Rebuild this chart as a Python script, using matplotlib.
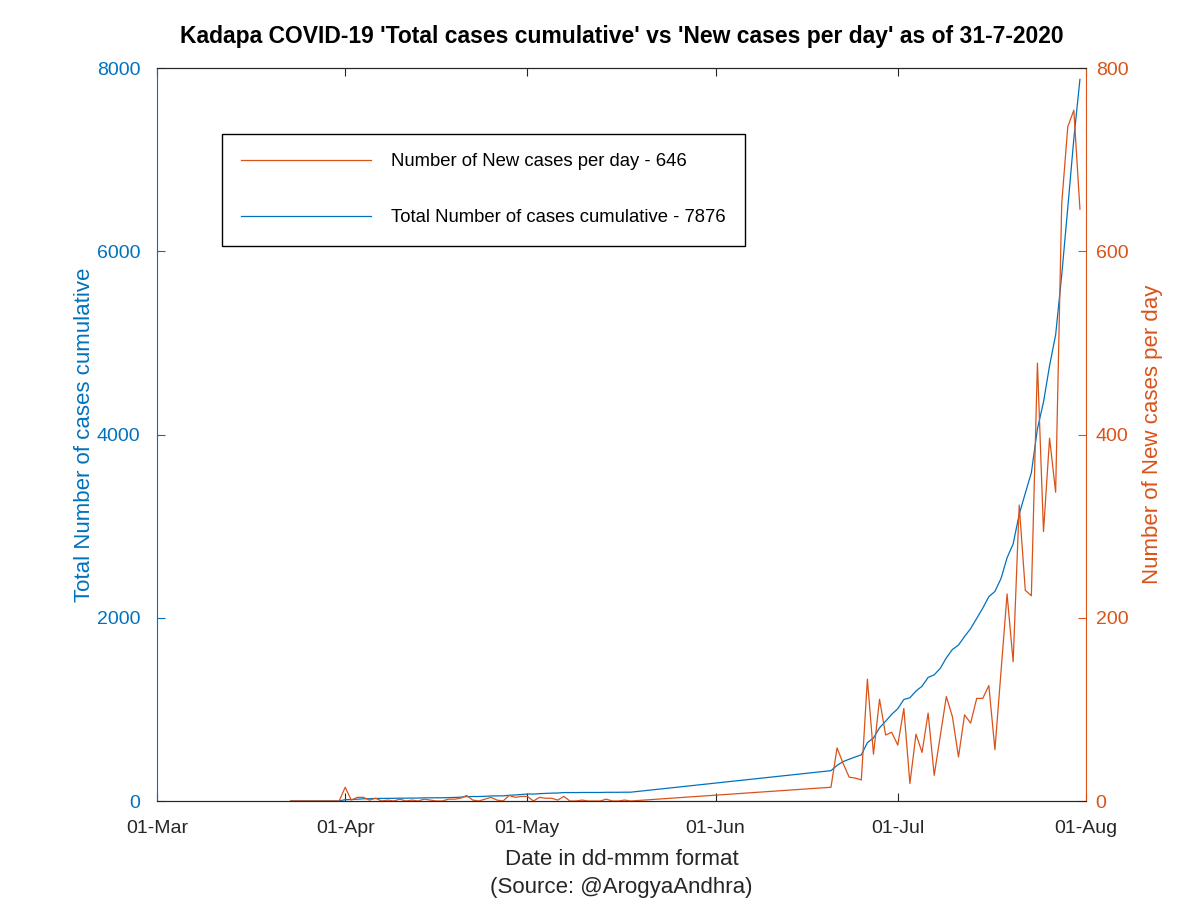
import matplotlib
matplotlib.use("Agg")
import matplotlib.pyplot as plt
import matplotlib.dates as mdates
import numpy as np
import pandas as pd

plt.rcParams['font.family'] = ['Liberation Sans', 'DejaVu Sans']

# данные: два участка с ежедневными значениями (между ними пропуск)
early_start, early_end = "2020-03-23", "2020-05-18"
late_start, late_end = "2020-06-20", "2020-07-31"

new_early = [0, 0, 0, 0, 0, 0, 0, 0, 0,
             15, 1, 4, 4, 1, 3, 0, 1, 0, 2,
             0, 1, 0, 2, 1, 0, 0, 2, 2, 3,
             6, 1, 0, 2, 4, 1, 0, 6, 4, 5,
             5, 0, 4, 3, 3, 1, 5, 0, 0, 1,
             0, 0, 0, 2, 0, 0, 1, 0]
cum_early = [0, 0, 0, 0, 0, 0, 0, 0, 0,
             15, 16, 20, 24, 25, 28, 28, 29, 29, 31,
             31, 32, 32, 34, 35, 35, 35, 37, 39, 42,
             48, 49, 49, 51, 55, 56, 56, 62, 66, 71,
             76, 76, 80, 83, 86, 87, 92, 92, 92, 93,
             93, 93, 93, 95, 95, 95, 96, 96]

new_late = [15, 58, 41, 26, 25, 23, 133, 51, 111, 72, 75,
            61, 101, 19, 73, 53, 96, 28, 71, 114, 92,
            48, 94, 85, 112, 112, 126, 56, 141, 226, 152,
            323, 230, 224, 478, 294, 396, 337, 652, 736, 754, 646]
cum_late = [331, 389, 430, 456, 481, 504, 637, 688, 799, 871, 946,
            1007, 1108, 1127, 1200, 1253, 1349, 1377, 1448, 1562, 1654,
            1702, 1796, 1881, 1993, 2105, 2231, 2287, 2428, 2654, 2806,
            3129, 3359, 3583, 4061, 4355, 4751, 5088, 5740, 6476, 7230, 7876]

dates = list(pd.date_range(early_start, early_end)) + list(pd.date_range(late_start, late_end))
new_cases = new_early + new_late
cum_cases = cum_early + cum_late

blue = '#0072BD'
orange = '#D95319'

fig = plt.figure(figsize=(12, 9), dpi=100)
ax1 = fig.add_axes([0.1308, 0.11, 0.7742, 0.8144])
ax2 = ax1.twinx()

l_cum, = ax1.plot(dates, cum_cases, color=blue, linewidth=0.9)
l_new, = ax2.plot(dates, new_cases, color=orange, linewidth=0.9)

ax1.set_xlim(pd.Timestamp("2020-03-01"), pd.Timestamp("2020-08-01"))
ax1.set_ylim(0, 8000)
ax2.set_ylim(0, 800)
ax1.set_yticks([0, 2000, 4000, 6000, 8000])
ax2.set_yticks([0, 200, 400, 600, 800])
ax1.xaxis.set_major_locator(mdates.MonthLocator())
ax1.xaxis.set_major_formatter(mdates.DateFormatter('%d-%b'))

# оси в стиле MATLAB
ax1.tick_params(axis='x', direction='in', top=True, labelsize=14, colors='#262626', length=6, pad=14)
ax1.tick_params(axis='y', direction='in', colors=blue, labelsize=14, length=6, pad=12)
ax2.tick_params(axis='y', direction='in', colors=orange, labelsize=14, length=6, pad=7)
ax1.spines['left'].set_color(blue)
ax1.spines['right'].set_visible(False)
ax2.spines['left'].set_visible(False)
ax2.spines['right'].set_color(orange)
for ax in (ax1, ax2):
    ax.spines['top'].set_color('#262626')
    ax.spines['bottom'].set_color('#262626')

ax1.set_ylabel("Total Number of cases cumulative", color=blue, fontsize=16, labelpad=1)
ax2.set_ylabel("Number of New cases per day", color=orange, fontsize=16, labelpad=10)
ax1.set_xlabel("Date in dd-mmm format\n(Source: @ArogyaAndhra)", fontsize=16, color='#262626',
               linespacing=1.45, labelpad=8)
ax1.set_title("Kadapa COVID-19 'Total cases cumulative' vs 'New cases per day' as of 31-7-2020",
              fontsize=16.5, fontweight='bold', pad=18)

leg = ax2.legend([l_new, l_cum],
                 ["Number of New cases per day - 646", "Total Number of cases cumulative - 7876"],
                 loc='upper left', bbox_to_anchor=(0.07, 0.91), borderaxespad=0, fontsize=13.3,
                 handlelength=7, labelspacing=2.1, handletextpad=1.1, borderpad=1.05,
                 fancybox=False, edgecolor='black', framealpha=1)
leg.get_frame().set_linewidth(1.0)

fig.savefig("out.png", dpi=100)
